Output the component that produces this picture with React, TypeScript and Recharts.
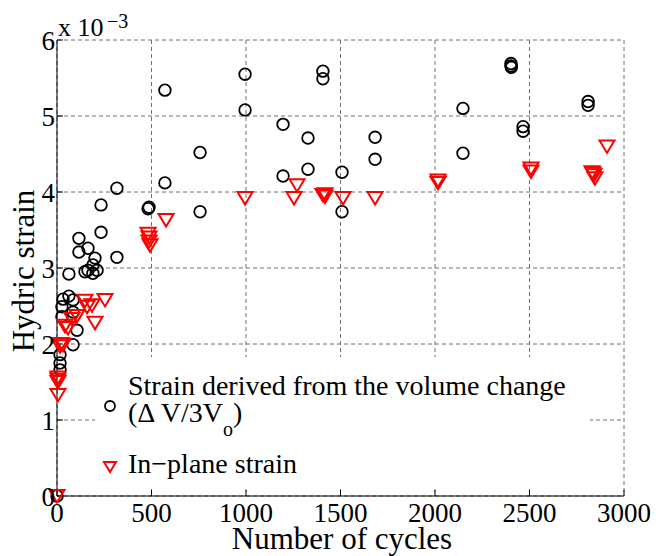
import { CartesianGrid, Scatter, ScatterChart, XAxis, YAxis } from "recharts";

// volume-change strain (x 1e-3) vs cycles
const volCycles = [
  0, 16, 16, 16, 85, 106, 26, 85, 26, 32, 63, 85, 63, 148, 164, 190, 212, 190, 201, 164,
  116, 116, 233, 317, 233, 317, 482, 487, 571, 571, 757, 757, 995, 995, 1196, 1196, 1328,
  1328, 1407, 1407, 1508, 1508, 1683, 1683, 2148, 2148, 2402, 2402, 2404, 2466, 2466, 2810, 2810,
];
const volStrain = [
  0, 1.66, 1.75, 1.86, 1.99, 2.18, 2.36, 2.42, 2.49, 2.59, 2.63, 2.58, 2.92, 2.95, 2.97, 2.93,
  2.97, 3.04, 3.13, 3.26, 3.21, 3.39, 3.47, 3.14, 3.83, 4.05, 3.78, 3.8, 4.12, 5.34, 4.52,
  3.74, 5.55, 5.08, 4.89, 4.21, 4.71, 4.3, 5.59, 5.49, 4.26, 3.74, 4.72, 4.43, 5.1, 4.51,
  5.69, 5.66, 5.64, 4.86, 4.8, 5.19, 5.14,
];

// in-plane strain
const planeCycles = [
  0, 5, 5, 5, 5, 16, 21, 32, 58, 42, 79, 106, 148, 159, 185, 201, 254, 482, 487, 487, 492,
  577, 995, 1254, 1270, 1407, 1418, 1418, 1513, 1683, 2016, 2016, 2508, 2508, 2831, 2836,
  2841, 2846, 2910,
];
const planeStrain = [
  0, 1.33, 1.5, 1.53, 1.56, 1.97, 2.0, 1.99, 2.21, 2.24, 2.33, 2.37, 2.57, 2.49, 2.51, 2.28,
  2.58, 3.45, 3.4, 3.35, 3.3, 3.63, 3.92, 3.92, 4.09, 3.96, 3.97, 3.94, 3.92, 3.92, 4.15,
  4.12, 4.31, 4.27, 4.26, 4.24, 4.22, 4.18, 4.6,
];

const xTicks = [0, 500, 1000, 1500, 2000, 2500, 3000];
const yTicks = [0, 1, 2, 3, 4, 5, 6];

const volData = volCycles.map((c, i) => ({ cycles: c, strain: volStrain[i] }));
const planeData = planeCycles.map((c, i) => ({ cycles: c, strain: planeStrain[i] }));

const serif = '"Liberation Serif", "Times New Roman", serif';
const tickFont = { fill: "#000", fontSize: 27, fontFamily: serif };

const CircleMark = (p: any) => (
  <circle cx={p.cx} cy={p.cy} r={5.8} fill="none" stroke="#000" strokeWidth={1.8} />
);

const TriMark = (p: any) => (
  <path
    d={`M${p.cx - 7.5},${p.cy - 6}L${p.cx + 7.5},${p.cy - 6}L${p.cx},${p.cy + 6.5}Z`}
    fill="none"
    stroke="#ff0000"
    strokeWidth={2}
  />
);

export default function App() {
  return (
    <div style={{ position: "absolute", left: 0, top: 0, width: 656, height: 556, background: "#fff" }}>
      <ScatterChart width={656} height={556} margin={{ top: 40, right: 32, left: 0, bottom: 0 }}>
        <CartesianGrid stroke="#707070" strokeDasharray="4 3" />
        <XAxis
          type="number"
          dataKey="cycles"
          domain={[0, 3000]}
          ticks={xTicks}
          height={60}
          tickSize={-6}
          tickMargin={13}
          stroke="#000"
          tick={tickFont}
        />
        <XAxis
          xAxisId="top"
          orientation="top"
          type="number"
          dataKey="cycles"
          domain={[0, 3000]}
          ticks={xTicks}
          height={0}
          tickSize={-6}
          tickFormatter={() => ""}
          stroke="#000"
        />
        <YAxis
          type="number"
          dataKey="strain"
          domain={[0, 6]}
          ticks={yTicks}
          width={57}
          tickSize={-6}
          tickMargin={8}
          stroke="#000"
          tick={tickFont}
        />
        <YAxis
          yAxisId="right"
          orientation="right"
          type="number"
          dataKey="strain"
          domain={[0, 6]}
          ticks={yTicks}
          width={0}
          tickSize={-6}
          tickFormatter={() => ""}
          stroke="#000"
        />
        <Scatter data={volData} shape={CircleMark} isAnimationActive={false} />
        <Scatter data={planeData} shape={TriMark} isAnimationActive={false} />
      </ScatterChart>

      <svg
        width={656}
        height={556}
        style={{ position: "absolute", left: 0, top: 0, pointerEvents: "none" }}
        fontFamily={serif}
      >
        <text x={58} y={36} fontSize={26}>x 10</text>
        <text x={107} y={28} fontSize={20}>−3</text>

        <text x={34} y={271} fontSize={31} textAnchor="middle" transform="rotate(-90 34 271)">
          Hydric strain
        </text>
        <text x={342} y={549} fontSize={31} textAnchor="middle">Number of cycles</text>

        {/* legend box */}
        <rect x={95} y={357} width={495} height={132} fill="#fff" />
        <circle cx={110} cy={406} r={5} fill="none" stroke="#000" strokeWidth={1.8} />
        <text x={128} y={395} fontSize={28}>Strain derived from the volume change</text>
        <text x={128} y={422} fontSize={28}>
          (Δ V/3V<tspan fontSize={20} dy={14}>o</tspan><tspan dy={-14}>)</tspan>
        </text>
        <path d="M104,462L116,462L110,472Z" fill="none" stroke="#ff0000" strokeWidth={2} />
        <text x={128} y={473} fontSize={28}>In−plane strain</text>
      </svg>
    </div>
  );
}
